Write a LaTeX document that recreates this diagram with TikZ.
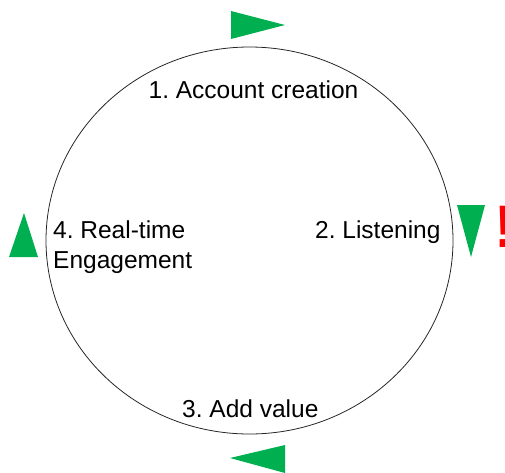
\documentclass[tikz,border=0pt]{standalone}
\usepackage{fontspec}
\setmainfont{Liberation Sans}
\frenchspacing
\definecolor{arrowgreen}{HTML}{00B050}
\begin{document}
\begin{tikzpicture}[x=1pt,y=-1pt,
  label/.style={inner sep=0pt,font=\fontsize{24.5}{30}\selectfont,text=black},
  pointer/.style={fill=arrowgreen,draw=none}]
\useasboundingbox (0,0) rectangle (505,472);
% the cycle
\draw[line width=0.8pt,black!85] (249.5,240.5) ellipse [x radius=203.5,y radius=193.5];
% stage labels
\node[label,anchor=base] (s1) at (253.5,98) {1. Account creation};
\node[label,anchor=base west] (s2) at (315,238) {2. Listening};
\node[label,anchor=base west] (s3) at (182,417) {3. Add value};
\node[label,anchor=base west,align=left] (s4) at (53,268) {4. Real-time\\Engagement};
% direction markers
\fill[pointer] (231,11) -- (231,39) -- (285,25) -- cycle;
\fill[pointer] (457,205) -- (485,205) -- (471,257) -- cycle;
\fill[pointer] (285,445) -- (285,473) -- (230,458) -- cycle;
\fill[pointer] (9,257) -- (38,257) -- (24,213) -- cycle;
% warning mark
\node[inner sep=0pt,anchor=base west,text=red,font=\fontsize{60}{62}\selectfont\bfseries] (warn) at (494,247) {!};
\end{tikzpicture}
\end{document}
